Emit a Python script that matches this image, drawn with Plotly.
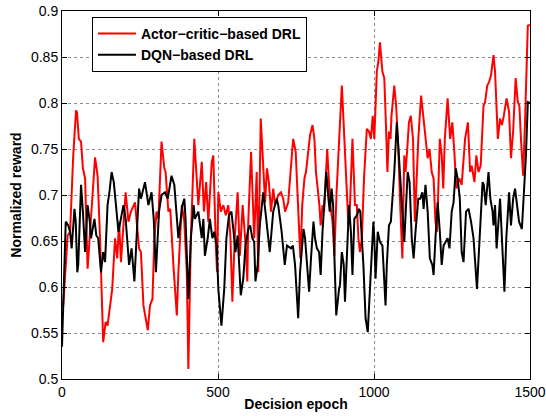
import plotly.graph_objects as go

# Actor-critic-based DRL (red)
ac_epoch = [0, 4, 18, 26, 36, 45, 48, 54, 61, 67, 74, 82, 90, 98, 106, 114, 122, 132, 140, 146,
            154, 161, 170, 177, 183, 189, 204, 213, 221, 234, 247, 253, 261, 275, 282, 290, 296, 303, 309, 319,
            328, 332, 341, 347, 357, 368, 373, 384, 392, 400, 405, 413, 424, 433, 437, 448, 455, 462, 469, 480,
            485, 493, 497, 501, 509, 517, 525, 533, 540, 546, 554, 563, 570, 579, 587, 594, 597, 606, 616, 624,
            629, 637, 645, 651, 657, 663, 670, 677, 683, 693, 702, 709, 715, 725, 736, 741, 749, 757, 764, 770,
            777, 782, 788, 795, 803, 809, 814, 820, 825, 829, 835, 840, 845, 850, 854, 860, 867, 873, 880, 888,
            897, 905, 912, 918, 923, 931, 939, 945, 950, 955, 961, 968, 977, 984, 990, 996, 1001, 1003, 1009, 1014,
            1019, 1027, 1033, 1038, 1043, 1048, 1053, 1056, 1065, 1071, 1078, 1084, 1091, 1097, 1101, 1106, 1112, 1118, 1125, 1131,
            1142, 1151, 1159, 1165, 1172, 1178, 1185, 1191, 1197, 1202, 1211, 1217, 1222, 1227, 1236, 1244, 1251, 1257, 1264, 1273,
            1281, 1292, 1301, 1308, 1313, 1322, 1328, 1335, 1342, 1351, 1356, 1363, 1369, 1375, 1383, 1388, 1397, 1404, 1410, 1416,
            1425, 1433, 1439, 1446, 1454, 1461, 1466, 1471, 1478, 1484, 1488, 1493, 1500]
ac_reward = [0.580, 0.580, 0.656, 0.660, 0.743, 0.792, 0.790, 0.761, 0.758, 0.729, 0.718, 0.620, 0.660, 0.703, 0.741, 0.721, 0.653, 0.540, 0.562, 0.558,
             0.580, 0.598, 0.653, 0.631, 0.671, 0.627, 0.703, 0.671, 0.682, 0.692, 0.642, 0.638, 0.580, 0.553, 0.580, 0.587, 0.653, 0.682, 0.674, 0.758,
             0.729, 0.725, 0.682, 0.685, 0.624, 0.569, 0.616, 0.689, 0.671, 0.616, 0.511, 0.653, 0.761, 0.703, 0.689, 0.736, 0.682, 0.714, 0.671, 0.736,
             0.743, 0.645, 0.616, 0.703, 0.682, 0.689, 0.678, 0.689, 0.653, 0.584, 0.656, 0.703, 0.634, 0.689, 0.653, 0.606, 0.671, 0.747, 0.653, 0.725,
             0.616, 0.783, 0.732, 0.692, 0.729, 0.714, 0.682, 0.707, 0.689, 0.700, 0.703, 0.696, 0.682, 0.692, 0.740, 0.761, 0.747, 0.674, 0.631, 0.689,
             0.718, 0.725, 0.743, 0.765, 0.776, 0.761, 0.725, 0.707, 0.689, 0.667, 0.689, 0.682, 0.725, 0.750, 0.725, 0.689, 0.671, 0.634, 0.703, 0.761,
             0.819, 0.761, 0.703, 0.667, 0.689, 0.761, 0.689, 0.689, 0.653, 0.638, 0.653, 0.718, 0.772, 0.769, 0.761, 0.786, 0.761, 0.786, 0.834, 0.845,
             0.866, 0.834, 0.827, 0.779, 0.725, 0.769, 0.761, 0.786, 0.819, 0.797, 0.750, 0.689, 0.631, 0.743, 0.725, 0.747, 0.779, 0.786, 0.761, 0.671,
             0.761, 0.808, 0.779, 0.761, 0.740, 0.750, 0.725, 0.718, 0.671, 0.660, 0.761, 0.743, 0.707, 0.761, 0.805, 0.761, 0.779, 0.750, 0.707, 0.718,
             0.711, 0.761, 0.779, 0.725, 0.732, 0.714, 0.743, 0.725, 0.732, 0.797, 0.801, 0.819, 0.823, 0.830, 0.852, 0.834, 0.761, 0.783, 0.776, 0.786,
             0.805, 0.790, 0.740, 0.769, 0.827, 0.801, 0.797, 0.761, 0.721, 0.779, 0.834, 0.884, 0.885]

# DQN-based DRL (black)
dqn_epoch = [0, 12, 20, 26, 31, 40, 44, 49, 52, 61, 67, 74, 82, 89, 93, 104, 110, 116, 125, 132,
             138, 146, 152, 159, 166, 172, 181, 187, 197, 204, 215, 223, 232, 240, 247, 253, 266, 277, 287, 294,
             301, 311, 319, 330, 339, 351, 360, 369, 373, 386, 392, 396, 405, 413, 422, 426, 437, 448, 453, 458,
             467, 474, 482, 488, 496, 501, 506, 511, 520, 527, 535, 543, 550, 556, 563, 573, 581, 588, 597, 603,
             610, 616, 620, 627, 634, 645, 652, 661, 666, 677, 688, 693, 704, 714, 721, 734, 740, 747, 757, 763,
             774, 779, 788, 792, 798, 806, 811, 817, 824, 829, 835, 841, 847, 854, 858, 864, 869, 873, 879, 888,
             891, 897, 903, 907, 914, 920, 926, 931, 937, 945, 952, 956, 966, 973, 980, 984, 988, 993, 998, 1001,
             1005, 1012, 1019, 1027, 1037, 1041, 1048, 1054, 1065, 1073, 1083, 1091, 1097, 1108, 1114, 1121, 1127, 1133, 1142, 1148,
             1155, 1159, 1165, 1172, 1179, 1187, 1191, 1197, 1204, 1211, 1217, 1223, 1230, 1236, 1242, 1249, 1255, 1262, 1268, 1275,
             1281, 1287, 1295, 1303, 1311, 1319, 1330, 1338, 1348, 1352, 1358, 1367, 1373, 1380, 1383, 1388, 1393, 1404, 1410, 1418,
             1424, 1433, 1439, 1446, 1452, 1459, 1465, 1474, 1480, 1487, 1493, 1500]
dqn_reward = [0.535, 0.671, 0.667, 0.660, 0.642, 0.685, 0.671, 0.616, 0.624, 0.711, 0.682, 0.638, 0.689, 0.671, 0.653, 0.674, 0.656, 0.653, 0.616, 0.638,
              0.627, 0.689, 0.703, 0.725, 0.714, 0.689, 0.660, 0.671, 0.689, 0.674, 0.624, 0.642, 0.606, 0.660, 0.707, 0.696, 0.714, 0.689, 0.703, 0.674,
              0.616, 0.682, 0.700, 0.703, 0.696, 0.721, 0.711, 0.671, 0.653, 0.689, 0.696, 0.674, 0.587, 0.653, 0.689, 0.674, 0.682, 0.653, 0.674, 0.634,
              0.653, 0.674, 0.653, 0.660, 0.645, 0.598, 0.580, 0.558, 0.598, 0.653, 0.678, 0.682, 0.660, 0.638, 0.656, 0.591, 0.609, 0.645, 0.663, 0.667,
              0.653, 0.649, 0.606, 0.624, 0.667, 0.703, 0.682, 0.653, 0.638, 0.682, 0.696, 0.689, 0.660, 0.624, 0.645, 0.642, 0.645, 0.624, 0.566, 0.616,
              0.663, 0.653, 0.606, 0.595, 0.631, 0.671, 0.653, 0.642, 0.638, 0.613, 0.660, 0.696, 0.725, 0.696, 0.682, 0.707, 0.689, 0.634, 0.569, 0.598,
              0.602, 0.638, 0.624, 0.584, 0.653, 0.689, 0.660, 0.613, 0.674, 0.678, 0.685, 0.682, 0.624, 0.566, 0.551, 0.580, 0.598, 0.634, 0.671, 0.653,
              0.609, 0.660, 0.649, 0.645, 0.580, 0.624, 0.667, 0.671, 0.725, 0.779, 0.725, 0.689, 0.649, 0.725, 0.714, 0.653, 0.631, 0.660, 0.696, 0.696,
              0.703, 0.685, 0.711, 0.682, 0.631, 0.624, 0.613, 0.653, 0.692, 0.660, 0.624, 0.645, 0.649, 0.653, 0.642, 0.682, 0.692, 0.729, 0.718, 0.696,
              0.638, 0.627, 0.682, 0.685, 0.671, 0.653, 0.598, 0.653, 0.714, 0.711, 0.689, 0.725, 0.696, 0.682, 0.667, 0.689, 0.642, 0.696, 0.656, 0.595,
              0.653, 0.703, 0.667, 0.696, 0.707, 0.689, 0.671, 0.663, 0.700, 0.743, 0.801, 0.800]

series_names = ["Actor\u2212critic\u2212based DRL", "DQN\u2212based DRL"]
x_ticks = [0, 500, 1000, 1500]
y_ticks = [0.5, 0.55, 0.6, 0.65, 0.7, 0.75, 0.8, 0.85, 0.9]
y_ticktext = ["0.5", "0.55", "0.6", "0.65", "0.7", "0.75", "0.8", "0.85", "0.9"]

FONT = "Liberation Sans, Arial, Helvetica, sans-serif"

fig = go.Figure()
fig.add_trace(go.Scatter(x=ac_epoch, y=ac_reward, mode="lines", name=series_names[0],
                         line=dict(color="#ff0000", width=2)))
fig.add_trace(go.Scatter(x=dqn_epoch, y=dqn_reward, mode="lines", name=series_names[1],
                         line=dict(color="#000000", width=2)))

axis_common = dict(showline=True, linecolor="black", linewidth=1, mirror="ticks",
                   ticks="inside", ticklen=5, tickcolor="black", tickwidth=1,
                   showgrid=True, gridcolor="#8a8a8a", griddash="dot", gridwidth=1,
                   zeroline=False, automargin=False,
                   tickfont=dict(family=FONT, size=14, color="black"))

fig.update_xaxes(range=[0, 1500], tickvals=x_ticks,
                 title=dict(text="Decision epoch", font=dict(family=FONT, size=14, color="black", weight="bold"), standoff=0),
                 **axis_common)
fig.update_yaxes(range=[0.5, 0.9], tickvals=y_ticks, ticktext=y_ticktext,
                 title=dict(text="Normalized reward", font=dict(family=FONT, size=14, color="black", weight="bold"), standoff=6),
                 **axis_common)

fig.update_layout(
    width=546, height=416,
    margin=dict(l=62, r=16, t=11, b=37),
    paper_bgcolor="white", plot_bgcolor="white",
    showlegend=True,
    legend=dict(x=0.064, y=0.984, xanchor="left", yanchor="top",
                bgcolor="white", bordercolor="black", borderwidth=1,
                font=dict(family=FONT, size=14, color="black", weight="bold"),
                tracegroupgap=0, itemwidth=38),
)

fig.write_html("out.html")
